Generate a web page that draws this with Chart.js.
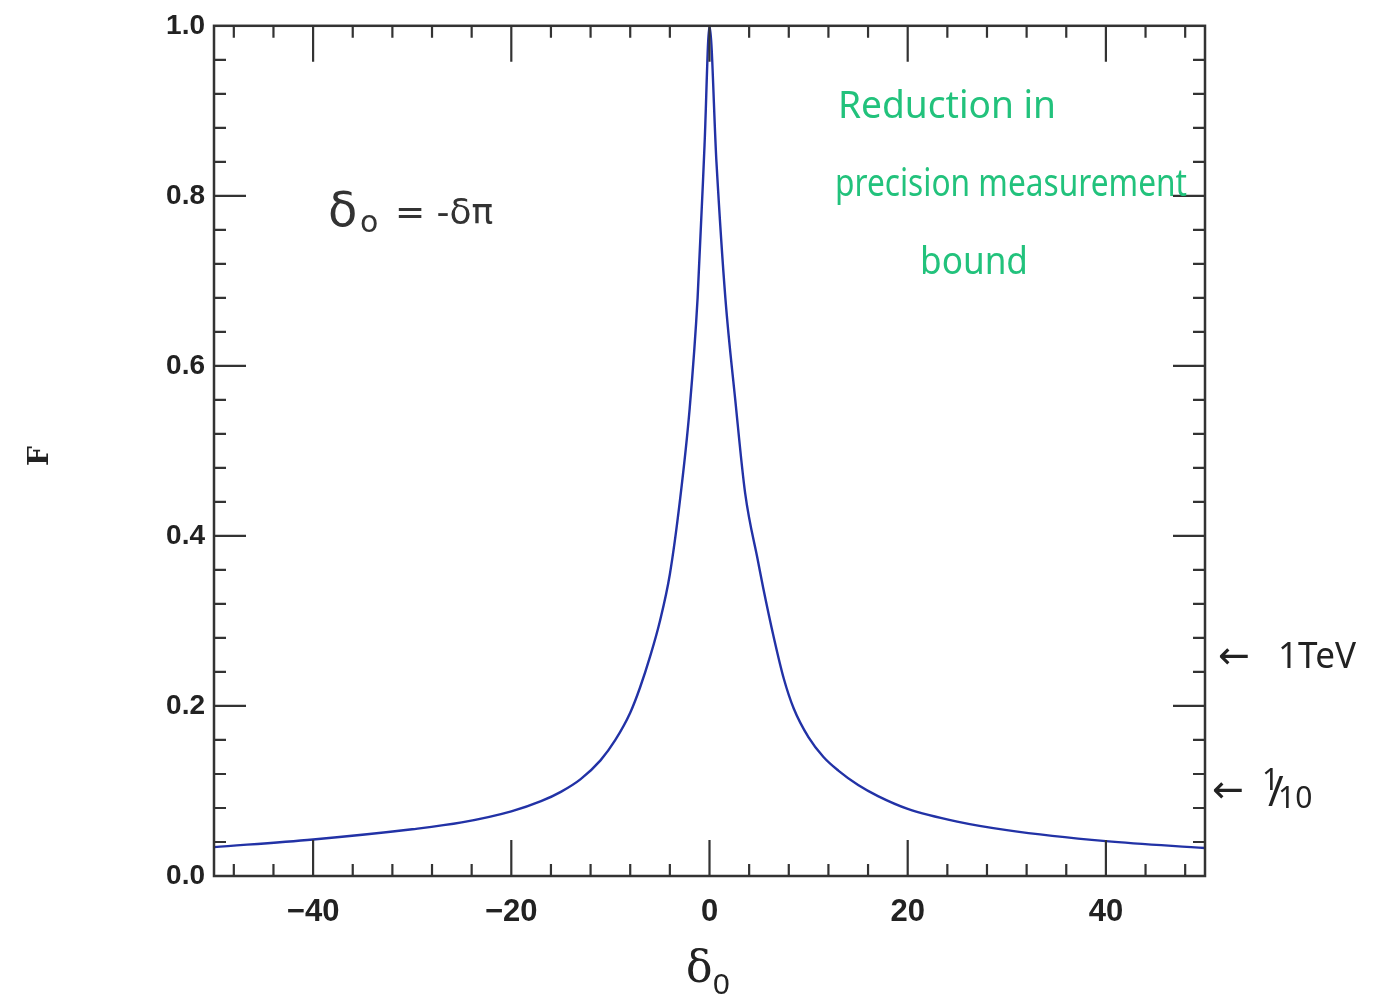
<!DOCTYPE html>
<html>
<head>
<meta charset="utf-8">
<script src="https://cdn.jsdelivr.net/npm/chart.js@4"></script>
<style>
  body { margin: 0; background: #fff; }
  #wrap { width: 1377px; height: 1001px; position: relative; }
</style>
</head>
<body>
<div id="wrap"><canvas id="fc"></canvas></div>
<script>
// delta_0 values and F
var deltaVals = [-50, -40, -30, -25, -20, -17, -15, -13, -11, -9.5, -8, -7, -6, -5, -4, -3, -2, -1.2, -0.5, 0,
                 0.7, 1.6, 2.6, 3.6, 4.9, 5.4, 6.5, 7.5, 8.5, 10, 11.5, 13, 15, 17, 20, 25, 30, 40, 50];
var fVals = [0.034, 0.043, 0.055, 0.063, 0.076, 0.088, 0.099, 0.114, 0.136, 0.160, 0.192, 0.222, 0.258, 0.300, 0.355, 0.44, 0.55, 0.68, 0.86, 1.0,
             0.84, 0.68, 0.56, 0.45, 0.37, 0.34, 0.28, 0.232, 0.197, 0.163, 0.140, 0.124, 0.107, 0.094, 0.079, 0.064, 0.054, 0.041, 0.033];
var xTickLabels = [-40, -20, 0, 20, 40];
var yTickLabels = [0.0, 0.2, 0.4, 0.6, 0.8, 1.0];
var xMinorStep = 4;

var pts = deltaVals.map(function (d, i) { return { x: d, y: fVals[i] }; });

function isMajX(v) {
    for (var i = 0; i < xTickLabels.length; i++) if (Math.abs(v - xTickLabels[i]) < 1e-6) return true;
    return false;
}
function isMajY(v) {
    for (var i = 0; i < yTickLabels.length; i++) if (Math.abs(v - yTickLabels[i]) < 1e-6) return true;
    return false;
}

var frame = {
    id: "frame",
    afterDatasetsDraw: function (ch) {
        var c = ch.ctx, a = ch.chartArea;
        var sx = ch.scales.x, sy = ch.scales.y;
        c.save();
        c.strokeStyle = "#333";
        c.lineWidth = 2.5;
        c.strokeRect(a.left, a.top, a.right - a.left, a.bottom - a.top);
        c.lineWidth = 2.2;
        c.beginPath();
        sx.ticks.forEach(function (t) {
            if (t.value <= sx.min || t.value >= sx.max) return;
            var px = sx.getPixelForValue(t.value);
            var L = isMajX(t.value) ? 36 : 12;
            c.moveTo(px, a.bottom); c.lineTo(px, a.bottom - L);
            c.moveTo(px, a.top); c.lineTo(px, a.top + L);
        });
        sy.ticks.forEach(function (t) {
            if (t.value <= sy.min + 1e-6 || t.value >= sy.max - 1e-6) return;
            var py = sy.getPixelForValue(t.value);
            var L = isMajY(t.value) ? 32 : 12;
            c.moveTo(a.left, py); c.lineTo(a.left + L, py);
            c.moveTo(a.right, py); c.lineTo(a.right - L, py);
        });
        c.stroke();

        // axis titles
        c.fillStyle = "#222";
        c.textBaseline = "alphabetic";
        c.textAlign = "left";
        c.font = "44px 'DejaVu Serif'";
        c.fillText("\u03b4", 686, 982);
        c.font = "30px 'Liberation Sans'";
        c.fillText("0", 713, 994);

        c.save();
        c.translate(48, 456);
        c.rotate(-Math.PI / 2);
        c.textAlign = "center";
        c.font = "bold 28px 'DejaVu Serif'";
        c.fillText("F", 0, 0);
        c.restore();

        // handwritten notes
        c.fillStyle = "#333";
        c.font = "48px 'DejaVu Sans'";
        c.fillText("\u03b4", 328, 226);
        c.font = "30px 'DejaVu Sans'";
        c.fillText("o", 360, 232);
        c.font = "36px 'DejaVu Sans'";
        c.fillText("= -\u03b4\u03c0", 395, 224, 102);

        c.fillStyle = "#22c27c";
        c.font = "38px 'Noto Sans'";
        c.fillText("Reduction in", 838, 118, 218);
        c.fillText("precision measurement", 835, 196, 352);
        c.fillText("bound", 920, 274, 108);

        c.fillStyle = "#222";
        c.font = "38px 'DejaVu Sans'";
        c.fillText("\u2190", 1218, 668, 44);
        c.font = "36px 'Noto Sans'";
        c.fillText("1TeV", 1278, 668, 78);
        c.font = "38px 'DejaVu Sans'";
        c.fillText("\u2190", 1212, 802, 44);
        c.font = "30px 'Noto Sans'";
        c.fillText("1", 1262, 790);
        c.font = "42px 'Noto Sans'";
        c.fillText("/", 1268, 806);
        c.font = "30px 'Noto Sans'";
        c.fillText("10", 1278, 808);
        c.restore();
    }
};

new Chart(document.getElementById("fc"), {
    type: "line",
    data: {
        datasets: [
            {
                label: "F",
                data: pts,
                borderColor: "#2232a6",
                borderWidth: 2.4,
                pointRadius: 0,
                fill: false,
                cubicInterpolationMode: "monotone"
            }
        ]
    },
    options: {
        responsive: true,
        maintainAspectRatio: false,
        animation: false,
        layout: { padding: { left: 0, right: 172, top: 23, bottom: 0 } },
        plugins: {
            legend: { display: false },
            tooltip: { enabled: false }
        },
        scales: {
            x: {
                type: "linear",
                min: -50,
                max: 50,
                afterFit: function (s) { s.height = 125; },
                afterBuildTicks: function (s) {
                    var t = [];
                    for (var v = -48; v <= 48; v += xMinorStep) t.push({ value: v });
                    s.ticks = t;
                },
                grid: { display: false, drawTicks: false },
                border: { display: false },
                ticks: {
                    autoSkip: false,
                    maxRotation: 0,
                    padding: 18,
                    color: "#222",
                    font: { family: "Liberation Sans", weight: "bold", size: 31 },
                    callback: function (v) {
                        return isMajX(v) ? String(Math.round(v)).replace("-", "\u2212") : "";
                    }
                }
            },
            y: {
                min: 0,
                max: 1,
                afterFit: function (s) { s.width = 214; },
                grid: { display: false, drawTicks: false },
                border: { display: false },
                ticks: {
                    stepSize: 0.04,
                    autoSkip: false,
                    padding: 9,
                    color: "#222",
                    font: { family: "Liberation Sans", weight: "bold", size: 28 },
                    callback: function (v) {
                        return isMajY(v) ? v.toFixed(1) : "";
                    }
                }
            }
        }
    },
    plugins: [frame]
});
</script>
</body>
</html>
